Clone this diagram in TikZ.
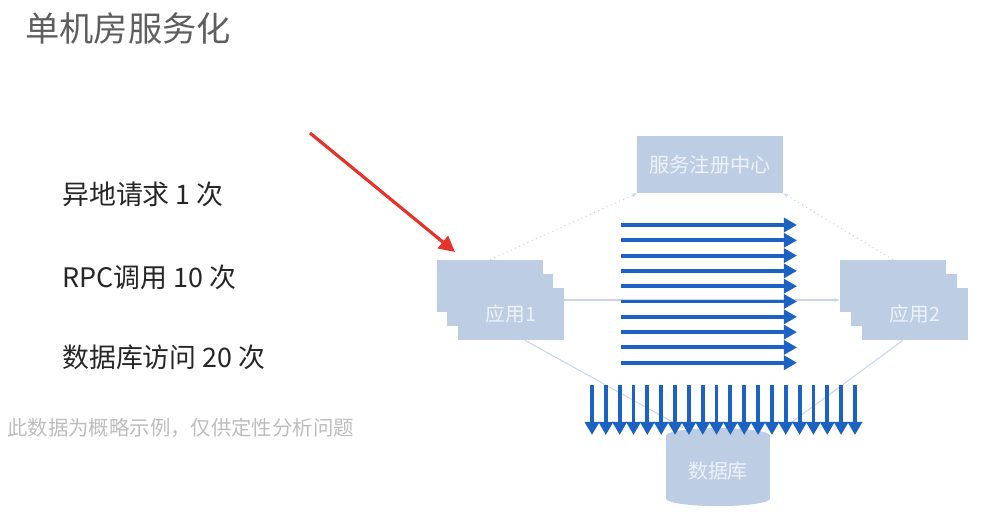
\documentclass[tikz,border=0pt]{standalone}
\usepackage{fontspec}
\setmainfont{Noto Sans CJK SC}
\usepackage{tikz}
\usetikzlibrary{calc, positioning, arrows.meta, shapes.geometric}

\definecolor{boxblue}{HTML}{BDCEE4}
\definecolor{boxtext}{HTML}{EDF2F9}
\definecolor{linkblue}{HTML}{C9D6EA}
\definecolor{flowblue}{HTML}{1B62C2}
\definecolor{hotred}{HTML}{E5322A}
\definecolor{titlegray}{HTML}{5E5E5E}
\definecolor{notegray}{HTML}{BDBDBD}

\begin{document}
\begin{tikzpicture}[x=0.02cm, y=-0.02cm,
    appbox/.style={fill=boxblue, inner sep=0pt, minimum width=2.12cm, minimum height=1.04cm,
        text=boxtext, font=\fontsize{11.2}{13}\selectfont},
    link/.style={draw=linkblue, line width=0.6pt},
    flow/.style={draw=flowblue, line width=2.2pt, -{Triangle[length=7.5pt, width=8pt]}},
    item/.style={anchor=west, inner sep=0pt, text=black!85, font=\fontsize{15.3}{18}\selectfont}]
    \useasboundingbox (0,0) rectangle (1002,528);

    % left side texts
    \node[anchor=west, inner sep=0pt, text=titlegray, font=\fontsize{19.5}{22}\selectfont] (title) at (25,28) {单机房服务化};
    \node[item] (remote) at (62,194) {异地请求 1 次};
    \node[item] (rpc) at (62,277) {RPC调用 10 次};
    \node[item] (dbcall) at (62,357) {数据库访问 20 次};
    \node[anchor=west, inner sep=0pt, text=notegray, font=\fontsize{11.6}{14}\selectfont] (note) at (7,428) {此数据为概略示例，仅供定性分析问题};

    % registry, apps, database
    \node[fill=boxblue, inner sep=0pt, minimum width=2.92cm, minimum height=1.14cm,
        text=boxtext, font=\fontsize{11.5}{13}\selectfont] (reg) at (710,164.5) {服务注册中心};
    \node[appbox] (app1a) at (490,286) {};
    \node[appbox] (app1b) at ($(app1a)+(10,14)$) {};
    \node[appbox] (app1c) at ($(app1b)+(11,14)$) {应用1};
    \node[appbox] (app2a) at (893,286) {};
    \node[appbox] (app2b) at ($(app2a)+(11,14)$) {};
    \node[appbox] (app2c) at ($(app2b)+(11,14)$) {应用2};

    \draw[link, dotted, -{Stealth[length=3pt]}] (app1a.north) -- (reg.south west);
    \draw[link, dotted, -{Stealth[length=3pt]}] (app2a.north) -- (reg.south east);
    \draw[link, -{Stealth[length=3pt]}] (app1c.east |- app2b.west) -- (app2a.west |- app2b.west);

    \node[cylinder, shape border rotate=90, aspect=0.25, fill=boxblue, draw=none,
        minimum width=2.08cm, minimum height=1.56cm, inner sep=0pt,
        text=boxtext, font=\fontsize{11.3}{13}\selectfont] (db) at (718,471) {数据库};
    \draw[link] ($(app1c.south)+(14,0)$) -- ($(db.north)+(-35,0)$);
    \draw[link] ($(app2c.south)+(-12,0)$) -- ($(db.north)+(66,0)$);

    % the calls
    \foreach \i in {0,...,9}
        \draw[flow] (621,{225+15.3*\i}) -- (797,{225+15.3*\i});
    \foreach \i in {0,...,19}
        \draw[flow] ({592+13.84*\i},385) -- ({592+13.84*\i},435);

    \coordinate (redtail) at (310,133);
    \coordinate (redtip) at (455,252);
    \draw[hotred, line width=1.8pt, -{Triangle[length=9pt, width=9pt]}] (redtail) -- (redtip);
\end{tikzpicture}
\end{document}
